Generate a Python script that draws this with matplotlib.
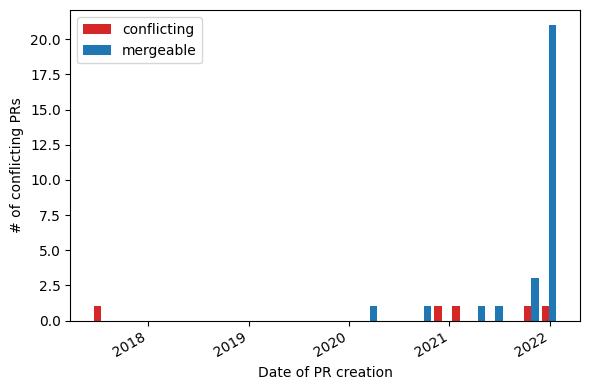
import matplotlib
matplotlib.use('Agg')
import matplotlib.pyplot as plt
import matplotlib.dates as mdates
import numpy as np

# Histogram binning (26 bins spanning the PR creation dates)
bin_start = '2017-06-09'
bin_end = '2022-02-01'
n_bins = 26

series_labels = ['conflicting', 'mergeable']
conflicting_counts = [1, 0, 0, 0, 0, 0, 0, 0, 0, 0, 0, 0, 0,
                      0, 0, 0, 0, 0, 0, 1, 1, 0, 0, 0, 1, 1]
mergeable_counts = [0, 0, 0, 0, 0, 0, 0, 0, 0, 0, 0, 0, 0,
                    0, 0, 1, 0, 0, 1, 0, 0, 1, 1, 0, 3, 21]

edges = np.linspace(mdates.datestr2num(bin_start), mdates.datestr2num(bin_end), n_bins + 1)
centers = (edges[:-1] + edges[1:]) / 2

fig, ax = plt.subplots(figsize=(5.9, 3.9), dpi=100)
ax.xaxis_date()
ax.hist([centers, centers], bins=edges,
        weights=[conflicting_counts, mergeable_counts],
        color=['tab:red', 'tab:blue'], label=series_labels)
fig.autofmt_xdate()
ax.set_xlabel('Date of PR creation')
ax.set_ylabel('# of conflicting PRs')
ax.legend(loc='upper left')
fig.tight_layout(pad=0.75)
fig.savefig('out.png')
